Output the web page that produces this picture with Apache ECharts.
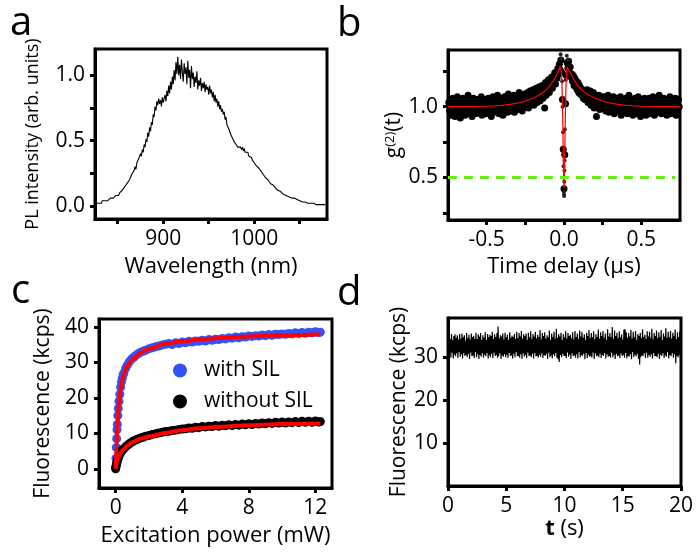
<!DOCTYPE html>
<html><head><meta charset="utf-8">
<script src="https://cdn.jsdelivr.net/npm/echarts@6/dist/echarts.min.js"></script>
<style>html,body{margin:0;padding:0;background:#fff}#c{width:696px;height:553px}</style>
</head><body><div id="c"></div>
<script>
// ---------- Panel a: PL spectrum (1 nm steps from 826 nm) ----------
const wlStart = 826, wlStep = 1;
const plIntensity = [
0.02,0.03,0.02,0.02,0.03,0.03,0.02,0.04,0.03,0.04,
0.04,0.03,0.05,0.04,0.05,0.05,0.06,0.05,0.07,0.06,
0.07,0.06,0.08,0.08,0.09,0.08,0.10,0.09,0.11,0.12,
0.12,0.14,0.13,0.16,0.15,0.18,0.17,0.20,0.22,0.21,
0.25,0.24,0.27,0.30,0.28,0.33,0.32,0.36,0.35,0.40,
0.38,0.43,0.41,0.47,0.45,0.51,0.49,0.56,0.53,0.60,
0.57,0.64,0.62,0.70,0.68,0.76,0.73,0.80,0.77,0.82,
0.78,0.81,0.76,0.83,0.79,0.82,0.85,0.80,0.88,0.84,
0.92,0.86,0.95,0.89,0.99,0.93,1.04,0.96,1.10,1.01,
1.14,1.00,1.08,0.97,1.12,1.02,0.95,1.09,1.01,1.06,
0.93,1.11,0.98,1.04,0.90,1.07,0.97,1.02,0.91,0.99,
0.94,1.03,0.89,0.96,0.92,0.98,0.88,0.94,0.90,0.95,
0.87,0.93,0.89,0.91,0.85,0.92,0.86,0.89,0.83,0.87,
0.80,0.85,0.79,0.82,0.76,0.80,0.74,0.77,0.72,0.74,
0.70,0.72,0.66,0.68,0.62,0.63,0.59,0.58,0.55,0.54,
0.52,0.51,0.49,0.50,0.47,0.48,0.45,0.46,0.44,0.45,
0.43,0.45,0.42,0.44,0.41,0.42,0.40,0.41,0.38,0.39,
0.37,0.37,0.35,0.35,0.33,0.34,0.31,0.32,0.30,0.29,
0.28,0.28,0.26,0.26,0.24,0.24,0.22,0.22,0.21,0.20,
0.19,0.19,0.17,0.18,0.16,0.16,0.15,0.14,0.14,0.13,
0.12,0.12,0.11,0.11,0.10,0.10,0.09,0.09,0.08,0.08,
0.08,0.07,0.07,0.07,0.06,0.06,0.06,0.05,0.06,0.05,
0.05,0.05,0.04,0.05,0.04,0.04,0.04,0.03,0.04,0.03,
0.03,0.03,0.03,0.02,0.03,0.02,0.02,0.02,0.02,0.02,
0.01,0.02,0.01,0.02,0.01,0.01,0.01,0.02,0.01,0.01,
0.01,0.01,0.01];
const aXTicks = [850,900,950,1000,1050], aXLabels = [900,1000];
const aYTicks = [0,0.25,0.5,0.75,1.0], aYLabels = [0,0.5,1.0];

// ---------- Panel b: g2 (0.005 us steps from -0.745 us) ----------
const tStart = -0.745, tStep = 0.005;
const g2Values = [
1.03,0.97,1.05,0.94,1.01,1.06,0.96,1.02,0.93,1.04,0.99,1.07,0.95,1.01,1.05,0.92,1.03,0.98,1.06,0.96,
1.02,0.94,1.05,1.00,0.97,1.08,0.95,1.03,0.99,1.04,0.93,1.02,1.06,0.97,1.01,0.95,1.05,0.98,1.03,0.96,
1.04,0.99,1.07,0.94,1.02,0.97,1.05,1.00,0.95,1.03,0.98,1.06,0.96,1.01,1.04,0.93,1.02,1.07,0.97,1.03,
0.99,1.05,0.96,1.08,1.01,0.95,1.04,0.98,1.06,1.00,0.94,1.03,1.07,0.97,1.05,1.01,0.96,1.09,0.99,1.04,
1.02,0.97,1.06,1.00,1.08,0.96,1.04,1.01,1.07,0.98,1.05,1.10,0.99,1.03,1.08,0.97,1.06,1.02,1.09,1.00,
1.07,1.03,1.10,0.99,1.06,1.11,1.02,1.08,1.04,1.12,1.01,1.09,1.05,1.13,1.03,1.10,1.07,1.14,1.04,1.11,
1.08,1.15,1.06,1.13,0.99,1.17,1.08,1.15,1.12,1.19,1.10,1.17,1.14,1.21,1.13,1.19,1.17,1.24,1.16,1.22,
1.20,1.27,1.23,1.30,1.26,1.33,1.24,1.05,0.70,
0.42,
0.66,1.02,1.22,1.31,1.27,1.32,1.24,1.28,1.21,
1.23,1.18,1.22,1.15,1.20,1.14,1.18,1.12,1.17,1.10,1.15,1.09,1.13,1.08,1.12,1.06,1.11,1.05,1.09,1.07,
1.12,1.03,1.09,1.06,1.11,1.01,1.08,1.04,1.10,0.99,1.07,1.03,0.93,1.06,1.01,1.08,0.98,1.05,1.02,1.07,
0.99,1.04,1.01,1.07,0.97,1.05,1.00,1.08,0.96,1.03,1.06,0.98,1.04,1.01,1.07,0.95,1.02,1.05,0.99,1.06,
0.97,1.03,1.00,1.07,0.94,1.02,1.05,0.98,1.04,0.96,1.06,1.01,0.95,1.03,1.08,0.97,1.02,0.99,1.05,0.94,
1.03,0.98,1.06,1.00,0.95,1.04,1.07,0.97,1.01,0.93,1.05,0.99,1.03,0.96,1.06,1.00,0.94,1.04,0.98,1.02,
1.06,0.95,1.01,1.04,0.97,1.07,0.99,0.94,1.03,1.00,1.05,0.96,1.02,1.08,0.97,1.01,0.95,1.04,0.99,1.06,
0.96,1.03,1.00,0.94,1.05,0.98,1.02,1.07,0.95,1.01,1.04,0.97,1.03,0.99,1.06,0.94,1.02,0.98,1.05,1.00];
const g2CenterT = [-0.012,-0.009,-0.006,-0.004,-0.002,-0.001,0.001,0.002,0.004,0.006,0.009,0.012,-0.022,-0.018,0.018,0.024,-0.003,0.003,0.0];
const g2CenterV = [1.18,1.00,0.82,0.66,0.50,0.40,0.37,0.47,0.62,0.84,1.02,1.19,1.37,1.34,1.36,1.33,0.58,0.55,0.38];
const fitT = [-0.75,-0.6,-0.5,-0.45,-0.4,-0.35,-0.3,-0.25,-0.2,-0.15,-0.12,-0.1,-0.08,-0.06,-0.05,-0.04,-0.03,-0.025,-0.02,-0.016,-0.012,-0.008,-0.004,0,0.004,0.008,0.012,0.016,0.02,0.025,0.03,0.04,0.05,0.06,0.08,0.1,0.12,0.15,0.2,0.25,0.3,0.35,0.4,0.45,0.5,0.6,0.75];
const fitG = [1.0,1.0,1.003,1.006,1.01,1.016,1.025,1.04,1.06,1.09,1.115,1.135,1.165,1.2,1.22,1.245,1.27,1.285,1.28,1.24,1.12,0.9,0.6,0.42,0.6,0.9,1.12,1.24,1.28,1.285,1.27,1.245,1.22,1.2,1.165,1.135,1.115,1.09,1.06,1.04,1.025,1.016,1.01,1.006,1.003,1.0,1.0];
const halfLineT = [-0.75,0.72], halfLineV = [0.5,0.5];
const bXTicks = [-0.5,-0.25,0,0.25,0.5], bXLabels = [-0.5,0,0.5];
const bYTicks = [0.25,0.5,0.75,1.0,1.25], bYLabels = [0.5,1.0];

// ---------- Panel c: saturation ----------
const powC = [0,0.02,0.04,0.06,0.08,0.1,0.13,0.16,0.2,0.25,0.3,0.35,0.4,0.45,0.5,0.6,0.7,0.8,0.9,1.0,1.1,1.2,1.35,1.5,1.65,1.8,2.0,2.2,2.4,2.6,2.8,3.0,
3.2,3.4,3.6,3.8,4.0,4.2,4.4,4.6,4.8,5.0,5.2,5.4,5.6,5.8,6.0,6.2,6.4,6.6,6.8,7.0,7.2,7.4,7.6,7.8,8.0,8.2,8.4,8.6,8.8,9.0,9.2,9.4,9.6,9.8,10.0,10.2,10.4,10.6,10.8,11.0,11.2,11.4,11.6,11.8,12.0,12.2,12.3];
const withSIL = [0.5,3.0,6.0,8.5,11.0,12.5,15.0,17.0,19.0,21.0,23.0,24.5,25.5,26.5,27.0,28.3,29.2,30.0,30.6,31.1,31.5,31.9,32.4,32.8,33.1,33.4,33.8,34.1,34.4,34.6,34.9,35.1,
35.3,35.0,35.5,35.3,35.7,35.5,35.9,35.7,36.0,35.9,36.2,36.0,36.4,36.2,36.5,36.4,36.7,36.6,36.9,36.8,37.1,36.9,37.2,37.1,37.4,37.3,37.5,37.4,37.7,37.5,37.8,37.6,37.9,37.8,38.0,37.9,38.1,38.0,38.3,38.1,38.4,38.2,38.5,38.3,38.6,38.4,38.5];
const withoutSIL = [0,0.5,1.0,1.5,1.9,2.2,2.7,3.1,3.6,4.1,4.5,4.9,5.2,5.5,5.7,6.2,6.6,7.0,7.3,7.6,7.9,8.1,8.4,8.7,8.9,9.2,9.4,9.7,9.9,10.1,10.3,10.5,
10.6,10.8,10.9,11.1,11.2,11.3,11.5,11.4,11.7,11.6,11.9,11.8,12.0,11.9,12.2,12.0,12.3,12.1,12.4,12.2,12.5,12.3,12.6,12.4,12.7,12.5,12.8,12.6,12.9,12.7,13.0,12.8,13.1,12.9,13.2,12.9,13.2,13.0,13.3,13.0,13.4,13.1,13.4,13.1,13.5,13.2,13.3];
const powFit = [0,0.05,0.1,0.2,0.3,0.4,0.5,0.7,1.0,1.5,2,3,4,5,6,8,10,12.3];
const fitWith = [0,7,12,18.5,22.5,25,26.8,29,30.8,32.7,33.8,35.2,35.9,36.4,36.8,37.3,37.6,37.9];
const fitWithout = [0,1.2,2.2,3.6,4.5,5.2,5.6,6.5,7.5,8.5,9.1,10.1,10.9,11.4,11.8,12.3,12.6,12.8];
const cXTicks = [0,4,8,12], cYTicks = [0,10,20,30,40];

// ---------- Panel d: time trace (0.05 s steps from 0 s) ----------
const traceStart = 0, traceStep = 0.05;
const traceKcps = [
34.6,30.2,35.0,30.9,34.1,29.8,35.3,31.0,33.9,29.6,34.8,30.5,35.2,30.1,34.4,30.8,35.0,29.7,34.0,31.1,
35.3,30.0,34.2,30.6,35.4,29.6,34.5,30.9,35.0,30.2,33.8,30.4,35.5,29.9,34.3,30.7,35.1,29.5,34.0,31.0,
35.4,30.1,34.6,30.3,34.9,29.7,34.2,31.1,35.6,29.9,34.1,30.6,35.2,29.5,34.7,30.4,35.5,30.0,33.9,30.8,
35.0,29.8,34.4,30.5,35.7,30.1,33.9,30.9,35.3,29.6,34.5,30.3,35.1,29.9,34.8,30.7,35.8,29.7,34.1,31.0,
35.2,30.2,34.6,30.4,35.5,29.8,37.0,30.1,34.3,30.8,35.0,29.5,34.7,30.3,35.4,30.0,34.0,30.6,35.6,29.9,
34.5,30.5,35.1,29.7,33.9,30.9,35.7,30.2,34.4,30.3,34.9,29.6,34.6,30.7,35.3,29.9,34.1,31.1,35.8,30.1,
34.3,30.2,35.5,29.8,34.7,30.6,36.0,29.5,34.2,30.8,35.2,30.0,34.8,30.4,35.4,29.7,33.9,31.0,35.6,30.2,
34.5,30.3,35.9,29.9,34.1,30.7,35.3,29.6,34.7,30.9,35.8,30.1,34.3,30.2,35.1,29.8,34.6,30.5,36.2,30.0,
34.0,30.8,35.5,29.7,34.8,30.4,35.7,30.2,34.2,30.7,35.0,29.5,34.5,31.0,36.1,29.9,33.9,30.3,35.4,29.6,
34.6,30.6,35.8,30.1,34.1,30.9,36.5,29.8,34.4,29.4,35.2,28.8,34.7,30.4,35.6,29.9,33.9,30.7,35.3,30.2,
34.5,30.2,35.9,29.7,34.2,31.0,35.5,30.0,34.8,30.5,35.1,29.5,34.3,30.8,35.7,30.1,34.0,30.3,36.0,29.8,
34.6,30.6,35.4,29.6,34.1,31.1,36.1,29.9,34.7,30.4,35.8,30.2,34.4,30.7,35.2,29.4,33.9,30.9,35.6,29.7,
34.8,30.5,36.2,30.0,34.3,30.2,35.5,29.8,34.5,31.0,35.9,29.5,34.0,30.8,35.3,30.1,34.6,30.3,36.3,29.9,
34.2,30.7,35.7,29.7,34.8,30.4,36.0,30.2,34.4,30.9,35.4,29.6,33.9,30.6,36.4,30.0,34.7,30.2,35.5,29.8,
34.5,31.0,36.9,29.9,34.1,30.5,36.1,29.5,34.8,30.7,35.6,30.1,34.3,30.3,35.9,29.7,34.6,30.8,35.2,30.2,
34.0,30.4,36.3,29.8,36.4,30.9,35.7,29.6,34.4,30.2,35.5,30.0,34.7,30.6,36.2,29.4,34.2,31.1,35.8,29.9,
34.5,30.5,36.0,30.1,33.9,30.7,35.3,29.5,34.8,28.2,35.6,29.9,34.3,30.3,36.4,30.2,34.6,30.8,35.1,29.7,
34.1,31.0,35.9,29.8,34.7,30.4,35.8,30.0,34.4,30.6,36.5,29.6,34.0,30.9,35.5,30.1,34.8,30.2,36.1,29.9,
34.3,30.7,35.7,29.5,34.6,30.5,36.2,30.2,33.9,30.8,35.4,29.7,34.7,30.3,36.6,30.0,34.4,31.1,35.8,29.6,
34.5,30.4,36.0,30.1,34.2,30.9,35.6,29.8,34.8,30.6,36.3,28.5,34.1,30.2,35.7,29.9,34.6,30.5,35.9,29.7,
32.5];
const dXTicks = [0,5,10,15,20], dYTicks = [10,20,30];

// ---------- build ----------
const FONT = 'Open Sans';
const zip = (xs, ys) => xs.map((x, i) => [x, ys[i]]);
const stepped = (start, step, ys) => ys.map((y, i) => [+(start + step * i).toFixed(4), y]);

function axis(grid, min, max, ticks, labels, fmt, name, nameGap, nameSize, rich) {
  const nts = { color: '#000', fontSize: nameSize, fontFamily: FONT };
  if (rich) nts.rich = rich;
  return {
    type: 'value', gridIndex: grid, min: min, max: max,
    axisLine: { show: true, onZero: false, lineStyle: { color: '#000', width: 3 } },
    axisTick: { show: true, inside: false, length: 5, customValues: ticks, lineStyle: { color: '#000', width: 3 } },
    axisLabel: { customValues: labels, color: '#000', fontSize: 21, fontFamily: FONT, margin: 10, formatter: fmt },
    splitLine: { show: false },
    name: name, nameLocation: 'middle', nameGap: nameGap, nameTextStyle: nts
  };
}
const f1 = v => Number(v).toFixed(1);
const f0 = v => String(Math.round(v));
const gridBase = { show: true, borderColor: '#000', borderWidth: 3, backgroundColor: 'transparent' };
const letter = (t, l, tp) => ({ text: t, left: l, top: tp, padding: 0, textStyle: { fontSize: 40, fontWeight: 'normal', color: '#000', fontFamily: FONT } });

const option = {
  animation: false,
  textStyle: { fontFamily: FONT },
  title: [letter('a', 10, 4), letter('b', 337, 5), letter('c', 11, 272), letter('d', 337, 274)],
  grid: [
    Object.assign({ left: 95, top: 49, width: 232, height: 170 }, gridBase),
    Object.assign({ left: 448, top: 50, width: 232, height: 170 }, gridBase),
    Object.assign({ left: 99, top: 319, width: 233, height: 169 }, gridBase),
    Object.assign({ left: 448, top: 318, width: 234, height: 168 }, gridBase)
  ],
  legend: {
    data: ['with SIL', 'without SIL'], orient: 'vertical', left: 168, top: 355,
    icon: 'circle', itemWidth: 14, itemHeight: 14, itemGap: 10,
    textStyle: { fontSize: 21, color: '#000', fontFamily: FONT, padding: [0, 0, 0, 12] },
    selectedMode: false
  },
  xAxis: [
    axis(0, 825, 1080, aXTicks, aXLabels, f0, 'Wavelength (nm)', 37, 22),
    axis(1, -0.75, 0.75, bXTicks, bXLabels, f1, 'Time delay (\u03bcs)', 36, 22),
    axis(2, -1, 13, cXTicks, cXTicks, f0, 'Excitation power (mW)', 37, 22),
    axis(3, 0, 20, dXTicks, dXTicks, f0, '{b|t} (s)', 28, 22, { b: { fontWeight: 'bold', fontSize: 22, fontFamily: FONT } })
  ],
  yAxis: [
    axis(0, -0.1, 1.2, aYTicks, aYLabels, f1, 'PL intensity (arb. units)', 53, 18),
    axis(1, 0.2, 1.4, bYTicks, bYLabels, f1, 'g{sup|(2)}(t)', 43, 21, { sup: { fontSize: 13, verticalAlign: 'top', lineHeight: 12, fontFamily: FONT } }),
    axis(2, -5.4, 42.2, cYTicks, cYTicks, f0, 'Fluorescence (kcps)', 45, 21),
    axis(3, 0, 39, dYTicks, dYTicks, f0, 'Fluorescence (kcps)', 38, 21)
  ],
  series: [
    { type: 'line', xAxisIndex: 0, yAxisIndex: 0, data: stepped(wlStart, wlStep, plIntensity), symbol: 'none', lineStyle: { color: '#000', width: 1.1 } },
    { type: 'scatter', xAxisIndex: 1, yAxisIndex: 1, data: stepped(tStart, tStep, g2Values), symbolSize: 7, itemStyle: { color: '#000', opacity: 1 } },
    { type: 'scatter', xAxisIndex: 1, yAxisIndex: 1, data: zip(g2CenterT, g2CenterV), symbolSize: 4, itemStyle: { color: '#222', opacity: 1 } },
    { type: 'line', xAxisIndex: 1, yAxisIndex: 1, data: zip(fitT, fitG), symbol: 'none', lineStyle: { color: '#ff0000', width: 1.2 } },
    { type: 'line', xAxisIndex: 1, yAxisIndex: 1, data: zip(halfLineT, halfLineV), symbol: 'none', lineStyle: { color: '#66ee11', width: 3, type: [9, 7] } },
    { name: 'with SIL', type: 'scatter', xAxisIndex: 2, yAxisIndex: 2, data: zip(powC, withSIL), symbolSize: 9, itemStyle: { color: '#3352ff', opacity: 1 } },
    { name: 'without SIL', type: 'scatter', xAxisIndex: 2, yAxisIndex: 2, data: zip(powC, withoutSIL), symbolSize: 9, itemStyle: { color: '#000', opacity: 1 } },
    { type: 'line', xAxisIndex: 2, yAxisIndex: 2, data: zip(powFit, fitWith), symbol: 'none', smooth: 0.3, smoothMonotone: 'x', lineStyle: { color: '#ff0000', width: 4 }, z: 5 },
    { type: 'line', xAxisIndex: 2, yAxisIndex: 2, data: zip(powFit, fitWithout), symbol: 'none', smooth: 0.3, smoothMonotone: 'x', lineStyle: { color: '#ff0000', width: 4 }, z: 5 },
    { type: 'line', xAxisIndex: 3, yAxisIndex: 3, data: stepped(traceStart, traceStep, traceKcps), symbol: 'none', lineStyle: { color: '#000', width: 1.2 } }
  ]
};
const chart = echarts.init(document.getElementById('c'), null, { renderer: 'canvas' });
chart.setOption(option);
</script></body></html>
